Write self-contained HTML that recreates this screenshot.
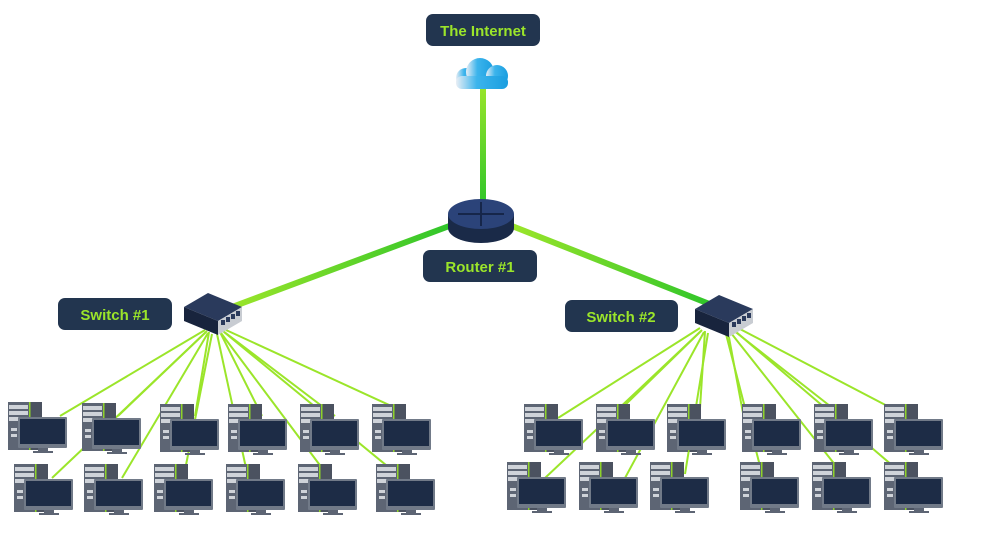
<!DOCTYPE html>
<html><head><meta charset="utf-8"><style>
html,body{margin:0;padding:0;background:#fff}
svg{display:block}
.lbl{font-family:"Liberation Sans",sans-serif;font-weight:bold;font-size:15px;fill:#9be52a}
</style></head><body>
<svg width="983" height="539" viewBox="0 0 983 539" xmlns="http://www.w3.org/2000/svg">
<defs>
<linearGradient id="vg" gradientUnits="userSpaceOnUse" x1="0" y1="85" x2="0" y2="205"><stop offset="0" stop-color="#9be52a"/><stop offset="1" stop-color="#2fc52a"/></linearGradient>
<linearGradient id="lg" x1="0" y1="0" x2="1" y2="0"><stop offset="0" stop-color="#9be52a"/><stop offset="1" stop-color="#2fc52a"/></linearGradient>
<linearGradient id="rg" x1="0" y1="0" x2="1" y2="0"><stop offset="0" stop-color="#9be52a"/><stop offset="1" stop-color="#2fc52a"/></linearGradient>
<linearGradient id="cg" x1="0" y1="0" x2="1" y2="0"><stop offset="0" stop-color="#e8eef5"/><stop offset="0.4" stop-color="#3cb4ec"/><stop offset="1" stop-color="#1a9ee0"/></linearGradient>
<g id="pc">
<rect x="0" y="0" width="34" height="48" fill="#5d6574"/>
<rect x="22" y="0" width="12" height="48" fill="#4b5260"/>
<rect x="21" y="0" width="1.5" height="48" fill="#8ed12a"/>
<rect x="1" y="3" width="19" height="4" fill="#cfd3d9"/>
<rect x="1" y="9" width="19" height="4" fill="#cfd3d9"/>
<rect x="1" y="15" width="19" height="4" fill="#cfd3d9"/>
<rect x="3" y="26" width="6" height="3" fill="#cfd3d9"/>
<rect x="3" y="32" width="6" height="3" fill="#cfd3d9"/>
<rect x="10" y="15" width="49" height="31" rx="1" fill="#717a88"/>
<rect x="12" y="17" width="45" height="25" fill="#1d2c46"/>
<rect x="30" y="46" width="10" height="3" fill="#5d6574"/>
<rect x="25" y="49" width="20" height="2" fill="#5d6574"/>
</g>
</defs>

<line x1="483" y1="85" x2="483" y2="205" stroke="url(#vg)" stroke-width="6"/>
<line x1="232" y1="307" x2="452" y2="225" stroke="url(#lg)" stroke-width="6"/>
<line x1="512" y1="226" x2="712" y2="305" stroke="url(#rg)" stroke-width="6"/>

<g stroke="#9be52a" stroke-width="2">
<line x1="205" y1="330" x2="60" y2="416"/>
<line x1="207" y1="331" x2="118" y2="416"/>
<line x1="209" y1="332" x2="195" y2="416"/>
<line x1="220" y1="332" x2="262" y2="416"/>
<line x1="223" y1="331" x2="335" y2="416"/>
<line x1="226" y1="330" x2="400" y2="410"/>
<line x1="206" y1="332" x2="52" y2="478"/>
<line x1="208" y1="333" x2="122" y2="478"/>
<line x1="212" y1="334" x2="185" y2="470"/>
<line x1="217" y1="334" x2="246" y2="468"/>
<line x1="221" y1="333" x2="322" y2="468"/>
<line x1="224" y1="332" x2="392" y2="470"/>
</g>
<g stroke="#9be52a" stroke-width="2">
<line x1="700" y1="328" x2="558" y2="418"/>
<line x1="702" y1="330" x2="622" y2="408"/>
<line x1="705" y1="331" x2="700" y2="408"/>
<line x1="728" y1="332" x2="745" y2="424"/>
<line x1="733" y1="330" x2="830" y2="406"/>
<line x1="738" y1="328" x2="895" y2="410"/>
<line x1="701" y1="331" x2="545" y2="478"/>
<line x1="704" y1="332" x2="625" y2="478"/>
<line x1="708" y1="333" x2="685" y2="474"/>
<line x1="726" y1="334" x2="760" y2="466"/>
<line x1="731" y1="333" x2="836" y2="466"/>
<line x1="735" y1="331" x2="893" y2="466"/>
</g>

<use href="#pc" x="8" y="402"/><use href="#pc" x="82" y="403"/><use href="#pc" x="160" y="404"/>
<use href="#pc" x="228" y="404"/><use href="#pc" x="300" y="404"/><use href="#pc" x="372" y="404"/>
<use href="#pc" x="14" y="464"/><use href="#pc" x="84" y="464"/><use href="#pc" x="154" y="464"/>
<use href="#pc" x="226" y="464"/><use href="#pc" x="298" y="464"/><use href="#pc" x="376" y="464"/>
<use href="#pc" x="524" y="404"/><use href="#pc" x="596" y="404"/><use href="#pc" x="667" y="404"/>
<use href="#pc" x="742" y="404"/><use href="#pc" x="814" y="404"/><use href="#pc" x="884" y="404"/>
<use href="#pc" x="507" y="462"/><use href="#pc" x="579" y="462"/><use href="#pc" x="650" y="462"/>
<use href="#pc" x="740" y="462"/><use href="#pc" x="812" y="462"/><use href="#pc" x="884" y="462"/>

<g transform="translate(184,293)">
<polygon points="0,14 24,0 58,14 34,28" fill="#2a3a5c"/>
<polygon points="0,14 34,28 34,42 0,28" fill="#18243d"/>
<polygon points="34,28 58,14 58,28 34,42" fill="#c8ccd2"/>
<g fill="#2a3a5c"><rect x="37" y="27" width="4" height="5"/><rect x="42" y="24" width="4" height="5"/><rect x="47" y="21" width="4" height="5"/><rect x="52" y="18" width="4" height="5"/></g>
</g>
<g transform="translate(695,295)">
<polygon points="0,14 24,0 58,14 34,28" fill="#2a3a5c"/>
<polygon points="0,14 34,28 34,42 0,28" fill="#18243d"/>
<polygon points="34,28 58,14 58,28 34,42" fill="#c8ccd2"/>
<g fill="#2a3a5c"><rect x="37" y="27" width="4" height="5"/><rect x="42" y="24" width="4" height="5"/><rect x="47" y="21" width="4" height="5"/><rect x="52" y="18" width="4" height="5"/></g>
</g>

<path d="M448,214 L448,228 A33,15 0 0 0 514,228 L514,214 Z" fill="#1a2a48"/>
<ellipse cx="481" cy="214" rx="33" ry="15" fill="#2b4379"/>
<g stroke="#16264a" stroke-width="2" fill="none">
<line x1="481" y1="202" x2="481" y2="226"/><line x1="458" y1="214" x2="504" y2="214"/>
</g>

<g fill="url(#cg)">
<circle cx="466" cy="78" r="10"/>
<circle cx="480" cy="72" r="14"/>
<circle cx="497" cy="76" r="11"/>
<rect x="456" y="76" width="52" height="13" rx="6"/>
</g>

<rect x="426" y="14" width="114" height="32" rx="7" fill="#22354f"/>
<text x="483" y="36" text-anchor="middle" class="lbl">The Internet</text>
<rect x="423" y="250" width="114" height="32" rx="7" fill="#22354f"/>
<text x="480" y="272" text-anchor="middle" class="lbl">Router #1</text>
<rect x="58" y="298" width="114" height="32" rx="7" fill="#22354f"/>
<text x="115" y="320" text-anchor="middle" class="lbl">Switch #1</text>
<rect x="565" y="300" width="113" height="32" rx="7" fill="#22354f"/>
<text x="621" y="322" text-anchor="middle" class="lbl">Switch #2</text>
</svg>
</body></html>
